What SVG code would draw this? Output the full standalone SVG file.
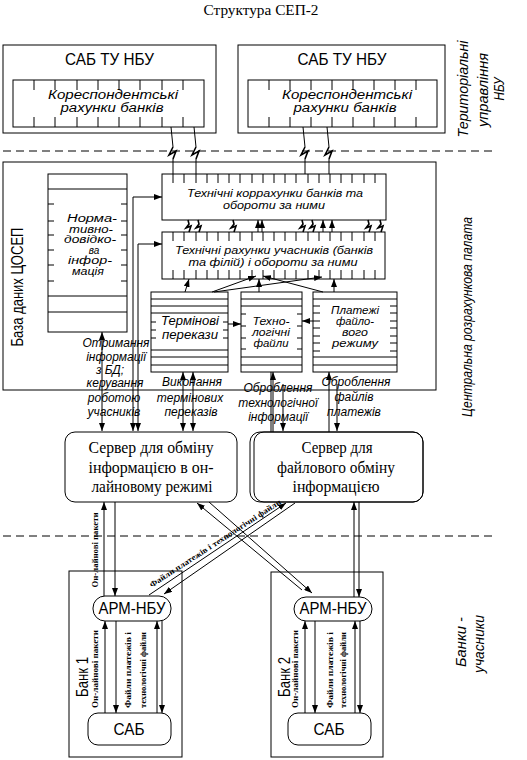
<svg xmlns="http://www.w3.org/2000/svg" width="527" height="760" viewBox="0 0 527 760">
<defs>
<marker id="ah" viewBox="0 0 8 6" refX="8" refY="3" markerWidth="8" markerHeight="6" markerUnits="userSpaceOnUse" orient="auto-start-reverse"><path d="M0,0L8,3L0,6z" fill="#000"/></marker>
</defs>
<style>
.b{fill:#fff;stroke:#000;stroke-width:1}
.n{fill:none;stroke:#000;stroke-width:1}
.z{fill:none;stroke:#000;stroke-width:1.6}
.t{font-family:"Liberation Sans",Arial,sans-serif;fill:#000}
.i{font-family:"Liberation Sans",Arial,sans-serif;font-style:italic;fill:#000}
.s{font-family:"Liberation Serif","Times New Roman",serif;fill:#000}
.sb{font-family:"Liberation Serif","Times New Roman",serif;font-weight:bold;fill:#000}
.a{marker-end:url(#ah)}
.a2{marker-start:url(#ah);marker-end:url(#ah)}
.d{stroke-dasharray:8 5}
</style>
<rect width="527" height="760" fill="#fff"/>
<text class="s" x="261" y="15" font-size="14" text-anchor="middle" textLength="115" lengthAdjust="spacingAndGlyphs">Структура СЕП-2</text>

<g id="dividers">
<line class="n d" x1="3" y1="151" x2="495" y2="151"/>
<line class="n d" x1="3" y1="536" x2="495" y2="536"/>
</g>

<g id="labels-right">
<text class="i" font-size="14" text-anchor="middle" transform="translate(463,89) rotate(-90)" y="5" textLength="97" lengthAdjust="spacingAndGlyphs">Територіальні</text>
<text class="i" font-size="14" text-anchor="middle" transform="translate(483,90) rotate(-90)" y="5" textLength="74" lengthAdjust="spacingAndGlyphs">управління</text>
<text class="i" font-size="14" text-anchor="middle" transform="translate(499,89) rotate(-90)" y="5" textLength="23" lengthAdjust="spacingAndGlyphs">НБУ</text>
<text class="i" font-size="14" text-anchor="middle" transform="translate(467,317) rotate(-90)" y="5" textLength="200" lengthAdjust="spacingAndGlyphs">Центральна розрахункова палата</text>
<text class="i" font-size="14" text-anchor="middle" transform="translate(461,642) rotate(-90)" y="5" textLength="50" lengthAdjust="spacingAndGlyphs">Банки -</text>
<text class="i" font-size="14" text-anchor="middle" transform="translate(479,644) rotate(-90)" y="5" textLength="58" lengthAdjust="spacingAndGlyphs">учасники</text>
</g>

<g id="tu1">
<rect class="b" x="3" y="45" width="213" height="88"/>
<text class="t" x="109.5" y="65" font-size="17" text-anchor="middle" textLength="89" lengthAdjust="spacingAndGlyphs">САБ ТУ НБУ</text>
<rect class="b" x="13" y="80" width="191" height="47"/>
<path class="n" d="M34,80v10M55,80v10M77,80v10M98,80v10M119,80v10M140,80v10M162,80v10M183,80v10M34,117v10M55,117v10M77,117v10M98,117v10M119,117v10M140,117v10M162,117v10M183,117v10"/>
<text class="i" x="113" y="99" font-size="12" text-anchor="middle" textLength="130" lengthAdjust="spacingAndGlyphs">Кореспондентські</text>
<text class="i" x="112" y="112" font-size="12" text-anchor="middle" textLength="103" lengthAdjust="spacingAndGlyphs">рахунки банків</text>
</g>

<g id="tu2">
<rect class="b" x="238" y="45" width="207" height="88"/>
<text class="t" x="342" y="65" font-size="17" text-anchor="middle" textLength="89" lengthAdjust="spacingAndGlyphs">САБ ТУ НБУ</text>
<rect class="b" x="248" y="80" width="189" height="47"/>
<path class="n" d="M269,80v10M290,80v10M311,80v10M332,80v10M353,80v10M374,80v10M395,80v10M416,80v10M269,117v10M290,117v10M311,117v10M332,117v10M353,117v10M374,117v10M395,117v10M416,117v10"/>
<text class="i" x="347" y="99" font-size="12" text-anchor="middle" textLength="130" lengthAdjust="spacingAndGlyphs">Кореспондентські</text>
<text class="i" x="345" y="112" font-size="12" text-anchor="middle" textLength="103" lengthAdjust="spacingAndGlyphs">рахунки банків</text>
</g>

<g id="ceosep">
<rect class="b" x="3" y="162" width="433" height="228"/>
<text class="t" font-size="17" text-anchor="middle" transform="translate(17,287) rotate(-90)" y="6" textLength="119" lengthAdjust="spacingAndGlyphs">База даних ЦОСЕП</text>
</g>

<g id="norm">
<rect class="b" x="48" y="174" width="79" height="158"/>
<path class="n" d="M48,189h79M48,296h79M48,312h79M48,204h6M48,221h6M48,235h6M48,250h6M48,265h6M48,281h6M127,204h-6M127,221h-6M127,235h-6M127,250h-6M127,265h-6M127,281h-6"/>
<g class="i" font-size="10" text-anchor="middle">
<text x="92" y="222" textLength="50" lengthAdjust="spacingAndGlyphs">Норма-</text>
<text x="91" y="232.5" textLength="44" lengthAdjust="spacingAndGlyphs">тивно-</text>
<text x="90" y="243" textLength="52" lengthAdjust="spacingAndGlyphs">довідко-</text>
<text x="94" y="253.5">ва</text>
<text x="90" y="264" textLength="44" lengthAdjust="spacingAndGlyphs">інфор-</text>
<text x="88" y="274.5" textLength="32" lengthAdjust="spacingAndGlyphs">мація</text>
</g>
</g>

<g id="techcorr">
<rect class="b" x="162" y="174" width="224" height="46"/>
<path class="n" d="M173,174v9M184,174v9M196,174v9M207,174v9M218,174v9M229,174v9M240,174v9M252,174v9M263,174v9M274,174v9M285,174v9M296,174v9M308,174v9M319,174v9M330,174v9M341,174v9M352,174v9M364,174v9M375,174v9"/>
<text class="i" x="275" y="197" font-size="11.5" text-anchor="middle" textLength="176" lengthAdjust="spacingAndGlyphs">Технічні коррахунки банків та</text>
<text class="i" x="274" y="208.5" font-size="11.5" text-anchor="middle" textLength="102" lengthAdjust="spacingAndGlyphs">обороти за ними</text>
</g>

<g id="techacc">
<rect class="b" x="162" y="232" width="223" height="47"/>
<path class="n" d="M173,232v9M184,232v9M196,232v9M207,232v9M218,232v9M229,232v9M240,232v9M252,232v9M263,232v9M274,232v9M285,232v9M296,232v9M308,232v9M319,232v9M330,232v9M341,232v9M352,232v9M364,232v9M375,232v9M173,279v-9M184,279v-9M196,279v-9M207,279v-9M218,279v-9M229,279v-9M240,279v-9M252,279v-9M263,279v-9M274,279v-9M285,279v-9M296,279v-9M308,279v-9M319,279v-9M330,279v-9M341,279v-9M352,279v-9M364,279v-9M375,279v-9"/>
<text class="i" x="274" y="253.5" font-size="11.5" text-anchor="middle" textLength="198" lengthAdjust="spacingAndGlyphs">Технічні рахунки учасників (банків</text>
<text class="i" x="273" y="266" font-size="11.5" text-anchor="middle" textLength="169" lengthAdjust="spacingAndGlyphs">та філій) і обороти за ними</text>
</g>

<g id="term">
<rect class="b" x="151" y="292" width="77" height="80"/>
<path class="n" d="M151,299h77M151,306h77M151,313h77M151,350h77M151,357h77M151,365h77M151,322h5M151,330h5M151,338h5M228,322h-5M228,330h-5M228,338h-5"/>
<text class="i" x="190" y="325" font-size="12" text-anchor="middle" textLength="58" lengthAdjust="spacingAndGlyphs">Термінові</text>
<text class="i" x="190" y="339" font-size="12" text-anchor="middle" textLength="56" lengthAdjust="spacingAndGlyphs">перекази</text>
</g>

<g id="techfiles">
<rect class="b" x="241" y="292" width="61" height="80"/>
<path class="n" d="M241,299h61M241,306h61M241,357h61M241,365h61M241,314h5M241,326h5M241,338h5M241,349h5M302,314h-5M302,326h-5M302,338h-5M302,349h-5"/>
<g class="i" font-size="11" text-anchor="middle">
<text x="271" y="325" textLength="37" lengthAdjust="spacingAndGlyphs">Техно-</text>
<text x="271" y="336" textLength="38" lengthAdjust="spacingAndGlyphs">логічні</text>
<text x="271" y="347" textLength="35" lengthAdjust="spacingAndGlyphs">файли</text>
</g>
</g>

<g id="filepay">
<rect class="b" x="313" y="292" width="84" height="80"/>
<path class="n" d="M313,299h84M313,357h84M313,365h84M313,306h7M313,313h7M313,321h7M313,328h7M313,336h7M313,343h7M313,351h7M397,306h-7M397,313h-7M397,321h-7M397,328h-7M397,336h-7M397,343h-7M397,351h-7"/>
<g class="i" font-size="11" text-anchor="middle">
<text x="355" y="314" textLength="48" lengthAdjust="spacingAndGlyphs">Платежі</text>
<text x="355" y="325" textLength="38" lengthAdjust="spacingAndGlyphs">файло-</text>
<text x="355" y="336" textLength="26" lengthAdjust="spacingAndGlyphs">вого</text>
<text x="355" y="347" textLength="46" lengthAdjust="spacingAndGlyphs">режиму</text>
</g>
</g>

<g id="server1">
<rect class="b" x="65" y="432" width="172" height="70" rx="10"/>
<text class="s" x="151" y="453" font-size="16" text-anchor="middle" textLength="125" lengthAdjust="spacingAndGlyphs">Сервер для обміну</text>
<text class="s" x="151" y="473" font-size="16" text-anchor="middle" textLength="125" lengthAdjust="spacingAndGlyphs">інформацією в он-</text>
<text class="s" x="152" y="492" font-size="16" text-anchor="middle" textLength="121" lengthAdjust="spacingAndGlyphs">лайновому режимі</text>
</g>

<g id="server2">
<rect class="b" x="250" y="432" width="173" height="70" rx="10"/>
<rect class="n" x="254" y="432" width="169" height="70" rx="10"/>
<text class="s" x="337" y="453" font-size="16" text-anchor="middle" textLength="71" lengthAdjust="spacingAndGlyphs">Сервер для</text>
<text class="s" x="336" y="473" font-size="16" text-anchor="middle" textLength="118" lengthAdjust="spacingAndGlyphs">файлового обміну</text>
<text class="s" x="336" y="492" font-size="16" text-anchor="middle" textLength="87" lengthAdjust="spacingAndGlyphs">інформацією</text>
</g>

<g id="bank1">
<rect class="b" x="69" y="571" width="113" height="186"/>
<text class="t" font-size="17" text-anchor="middle" transform="translate(82,677) rotate(-90)" y="6" textLength="40" lengthAdjust="spacingAndGlyphs">Банк 1</text>
</g>
<g id="arm1">
<rect class="b" x="93" y="596" width="78" height="25" rx="12"/>
<text class="t" x="132" y="614" font-size="16" text-anchor="middle" textLength="67" lengthAdjust="spacingAndGlyphs">АРМ-НБУ</text>
</g>
<g id="sab1">
<rect class="b" x="88" y="713" width="83" height="32" rx="10"/>
<text class="t" x="129" y="735" font-size="16" text-anchor="middle" textLength="31" lengthAdjust="spacingAndGlyphs">САБ</text>
</g>

<g id="bank2">
<rect class="b" x="271" y="572" width="112" height="185"/>
<text class="t" font-size="17" text-anchor="middle" transform="translate(284,677) rotate(-90)" y="6" textLength="40" lengthAdjust="spacingAndGlyphs">Банк 2</text>
</g>
<g id="arm2">
<rect class="b" x="294" y="597" width="78" height="24" rx="12"/>
<text class="t" x="333" y="614" font-size="16" text-anchor="middle" textLength="67" lengthAdjust="spacingAndGlyphs">АРМ-НБУ</text>
</g>
<g id="sab2">
<rect class="b" x="288" y="713" width="83" height="32" rx="10"/>
<text class="t" x="329" y="735" font-size="16" text-anchor="middle" textLength="31" lengthAdjust="spacingAndGlyphs">САБ</text>
</g>

<g id="connectors">
<path class="n" d="M171,127L173,147M173,159L173,174M194,127L196,147M196,159L196,174M303,127L305,147M305,159L305,174M327,127L329,147M329,159L329,174"/>
<path class="z" d="M173,147L169,155L176,151L173,159M196,147L192,155L199,151L196,159M305,147L301,155L308,151L305,159M329,147L325,155L332,151L329,159"/>
<path class="z" d="M188,220L189,224L186,228L191,226L189,232M198,220L199,224L196,228L201,226L199,232M233,220L234,224L231,228L236,226L234,232M302,220L303,224L300,228L305,226L303,232M312,220L313,224L310,228L315,226L313,232M368,220L369,224L366,228L371,226L369,232M380,220L381,224L378,228L383,226L381,232"/>
<line class="n a" x1="258" y1="232" x2="258" y2="220"/>
<line class="n a" x1="262" y1="232" x2="262" y2="220"/>
<line class="n a" x1="323" y1="232" x2="323" y2="220"/>
<line class="n a" x1="332" y1="232" x2="332" y2="220"/>
<polyline class="n a2" points="133,431 133,197 162,197"/>
<polyline class="n a2" points="138,431 138,244 162,244"/>
<line class="n a2" x1="102" y1="431" x2="102" y2="332"/>
<line class="n a2" x1="183" y1="431" x2="183" y2="372"/>
<line class="n a2" x1="193" y1="431" x2="193" y2="372"/>
<line class="n" x1="271" y1="432" x2="271" y2="372"/>
<line class="n a" x1="273" y1="432" x2="273" y2="372"/>
<line class="n a" x1="283" y1="384" x2="283" y2="431"/>
<line class="n a" x1="329" y1="432" x2="329" y2="372"/>
<line class="n a" x1="337" y1="384" x2="337" y2="431"/>
<line class="n a" x1="228" y1="324" x2="241" y2="324"/>
<line class="n a" x1="313" y1="321" x2="302" y2="321"/>
<line class="n a" x1="185" y1="292" x2="189" y2="279"/>
<line class="n a" x1="212" y1="292" x2="256" y2="276"/>
<polyline class="n a" points="214,292 300,280 322,277"/>
<line class="n a" x1="323" y1="292" x2="263" y2="276"/>
<line class="n a" x1="259" y1="292" x2="259" y2="279"/>
<line class="n a" x1="334" y1="292" x2="334" y2="279"/>
<line class="n a" x1="104" y1="596" x2="104" y2="502"/>
<line class="n a" x1="115" y1="502" x2="115" y2="596"/>
<line class="n a" x1="354" y1="597" x2="354" y2="502"/>
<line class="n a" x1="359" y1="502" x2="359" y2="597"/>
<line class="n a" x1="302" y1="590" x2="197" y2="503"/>
<line class="n a" x1="209" y1="502" x2="312" y2="593"/>
<line class="n a" x1="149" y1="595" x2="286" y2="503"/>
<line class="n a" x1="295" y1="503" x2="164" y2="594"/>
<line class="n a" x1="105" y1="713" x2="105" y2="621"/>
<line class="n a" x1="116" y1="621" x2="116" y2="713"/>
<line class="n a" x1="157" y1="713" x2="157" y2="621"/>
<line class="n a" x1="162" y1="621" x2="162" y2="713"/>
<line class="n a" x1="305" y1="713" x2="305" y2="621"/>
<line class="n a" x1="315" y1="621" x2="315" y2="713"/>
<line class="n a" x1="355" y1="713" x2="355" y2="621"/>
<line class="n a" x1="360" y1="621" x2="360" y2="713"/>
</g>

<g id="connector-labels">
<g class="i" font-size="12" text-anchor="middle">
<text x="116" y="347">Отримання</text>
<text x="116" y="361">інформації</text>
<text x="110" y="374">з БД;</text>
<text x="115" y="387">керування</text>
<text x="114" y="402">роботою</text>
<text x="114" y="416">учасників</text>
<text x="192" y="386">Виконання</text>
<text x="190" y="402">термінових</text>
<text x="191" y="416">переказів</text>
<text x="278" y="392">Оброблення</text>
<text x="278" y="407">технологічної</text>
<text x="278" y="421">інформації</text>
<text x="356" y="386">Оброблення</text>
<text x="354" y="401">файлів</text>
<text x="354" y="416">платежів</text>
</g>
<g class="sb" font-size="8" text-anchor="middle">
<text transform="translate(95,550) rotate(-90)" y="3" textLength="75" lengthAdjust="spacingAndGlyphs">Он-лайнові пакети</text>
<text transform="translate(95,669) rotate(-90)" y="3" textLength="78" lengthAdjust="spacingAndGlyphs">Он-лайнові пакети</text>
<text transform="translate(128,670) rotate(-90)" y="3" textLength="76" lengthAdjust="spacingAndGlyphs">Файли платежів і</text>
<text transform="translate(143,670) rotate(-90)" y="3" textLength="76" lengthAdjust="spacingAndGlyphs">технологічні файли</text>
<text transform="translate(295,669) rotate(-90)" y="3" textLength="78" lengthAdjust="spacingAndGlyphs">Он-лайнові пакети</text>
<text transform="translate(330,670) rotate(-90)" y="3" textLength="76" lengthAdjust="spacingAndGlyphs">Файли платежів і</text>
<text transform="translate(343,670) rotate(-90)" y="3" textLength="76" lengthAdjust="spacingAndGlyphs">технологічні файли</text>
<text transform="translate(215,543) rotate(-33)" y="3" textLength="155" lengthAdjust="spacingAndGlyphs">Файли платежів і технологічні файли</text>
</g>
</g>
</svg>
